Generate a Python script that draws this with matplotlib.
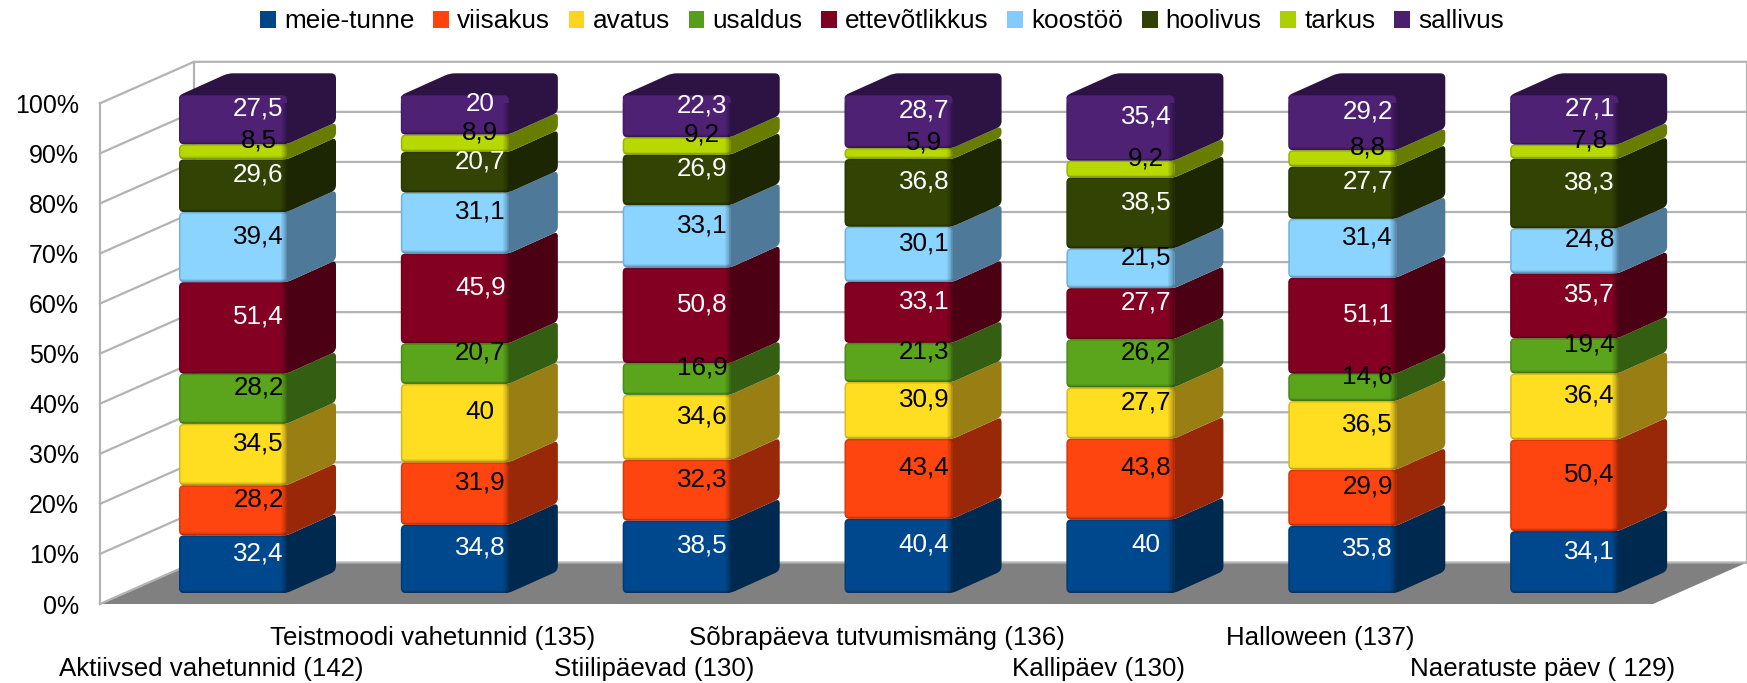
import matplotlib

matplotlib.use("Agg")
import matplotlib.pyplot as plt
from matplotlib.colors import to_rgb
from matplotlib.patches import PathPatch, Rectangle
from matplotlib.path import Path

plt.rcParams["font.family"] = ["Liberation Sans", "DejaVu Sans"]

categories = [
    "Aktiivsed vahetunnid (142)",
    "Teistmoodi vahetunnid (135)",
    "Stiilipäevad (130)",
    "Sõbrapäeva tutvumismäng (136)",
    "Kallipäev (130)",
    "Halloween (137)",
    "Naeratuste päev ( 129)",
]

series_names = ["meie-tunne", "viisakus", "avatus", "usaldus", "ettevõtlikkus",
                "koostöö", "hoolivus", "tarkus", "sallivus"]

meie_tunne = [32.4, 34.8, 38.5, 40.4, 40, 35.8, 34.1]
viisakus = [28.2, 31.9, 32.3, 43.4, 43.8, 29.9, 50.4]
avatus = [34.5, 40, 34.6, 30.9, 27.7, 36.5, 36.4]
usaldus = [28.2, 20.7, 16.9, 21.3, 26.2, 14.6, 19.4]
ettevotlikkus = [51.4, 45.9, 50.8, 33.1, 27.7, 51.1, 35.7]
koostoo = [39.4, 31.1, 33.1, 30.1, 21.5, 31.4, 24.8]
hoolivus = [29.6, 20.7, 26.9, 36.8, 38.5, 27.7, 38.3]
tarkus = [8.5, 8.9, 9.2, 5.9, 9.2, 8.8, 7.8]
sallivus = [27.5, 20, 22.3, 28.7, 35.4, 29.2, 27.1]

series = [meie_tunne, viisakus, avatus, usaldus, ettevotlikkus, koostoo, hoolivus, tarkus, sallivus]

colors = ["#004586", "#ff420e", "#ffd320", "#579d1c", "#7e0021",
          "#83caff", "#314004", "#aecf00", "#4b1f6f"]
label_colors = ["white", "black", "black", "black", "white", "black", "white", "black", "white"]

yticks = list(range(0, 101, 10))

# pixel geometry of the front plane, everything else goes through the data scale
W, H = 1747, 683
LEFT, RIGHT, BOTTOM, TOP = 100, 1653, 604, 103.3
X_PX = (RIGHT - LEFT) / len(categories)
Y_PX = (BOTTOM - TOP) / 100

# depth of the room and of one bar, in data units
ROOM_DX, ROOM_DY = 94 / X_PX, 41.5 / Y_PX
BAR_DX, BAR_DY = 49 / X_PX, 22 / Y_PX
BAR_X, BAR_W = 79 / X_PX, 108 / X_PX
BAR_BASE, BAR_SCALE = 11 / Y_PX, 0.994
WALL = "#b3b3b3"
FONT = 18.7


def shade(color, k):
    return tuple(min(1, c * k) for c in to_rgb(color))


def rounded(pts, r=5):
    """Closed path through pts with rounded corners, r in pixels."""
    px = [(x * X_PX, y * Y_PX) for x, y in pts]
    verts, codes = [], []
    n = len(px)
    for i in range(n):
        x, y = px[i]
        ax_, ay_ = px[i - 1]
        bx, by = px[(i + 1) % n]
        la = max(((ax_ - x) ** 2 + (ay_ - y) ** 2) ** 0.5, 1e-6)
        lb = max(((bx - x) ** 2 + (by - y) ** 2) ** 0.5, 1e-6)
        ra = min(r, la / 2)
        rb = min(r, lb / 2)
        start = (x + (ax_ - x) * ra / la, y + (ay_ - y) * ra / la)
        end = (x + (bx - x) * rb / lb, y + (by - y) * rb / lb)
        verts += [start, (x, y), end]
        codes += [Path.MOVETO if i == 0 else Path.LINETO, Path.CURVE3, Path.CURVE3]
    verts.append(verts[0])
    codes.append(Path.CLOSEPOLY)
    return Path([(x / X_PX, y / Y_PX) for x, y in verts], codes)


fig = plt.figure(figsize=(W / 100, H / 100), dpi=100)
ax = fig.add_axes([LEFT / W, 1 - BOTTOM / H, (RIGHT - LEFT) / W, (BOTTOM - TOP) / H])
ax.set_xlim(0, len(categories))
ax.set_ylim(0, 100)
for spine in ax.spines.values():
    spine.set_visible(False)
ax.patch.set_visible(False)

# room: floor, left wall and back wall
n = len(categories)
ax.add_patch(plt.Polygon([(0, 0), (n, 0), (n + ROOM_DX, ROOM_DY), (ROOM_DX, ROOM_DY)],
                         fc="#808080", ec="none", clip_on=False, zorder=1))
for v in yticks:
    ax.plot([0, ROOM_DX, n + ROOM_DX], [v, v + ROOM_DY, v + ROOM_DY],
            color=WALL, lw=1.6, clip_on=False, zorder=1.5)
ax.plot([0, 0], [0, 100], color=WALL, lw=1.6, clip_on=False, zorder=1.5)
ax.plot([ROOM_DX, ROOM_DX], [ROOM_DY, 100 + ROOM_DY], color=WALL, lw=1.6, clip_on=False, zorder=1.5)
ax.plot([n + ROOM_DX, n + ROOM_DX], [ROOM_DY, 100 + ROOM_DY], color=WALL, lw=1.6, clip_on=False, zorder=1.5)

# stacked boxes
inner = 6 / X_PX
for i in range(n):
    total = sum(s[i] for s in series)
    x0 = i + BAR_X
    x1 = x0 + BAR_W
    bottom = BAR_BASE
    for j, s in enumerate(series):
        height = s[i] / total * 100 * BAR_SCALE
        top = bottom + height
        z = 2 + j * 0.1
        side_c = shade(colors[j], 0.6)

        # side face runs a little under the front so no gap shows at the seam
        if j == len(series) - 1:
            side = [(x1 - inner, bottom), (x1, bottom), (x1 + BAR_DX, bottom + BAR_DY),
                    (x1 + BAR_DX, top + BAR_DY), (x0 + BAR_DX, top + BAR_DY), (x0, top),
                    (x0, top - 1), (x1 - inner, top - 1)]
        else:
            side = [(x1 - inner, bottom), (x1, bottom), (x1 + BAR_DX, bottom + BAR_DY),
                    (x1 + BAR_DX, top + BAR_DY), (x1, top), (x1 - inner, top)]
        ax.add_patch(PathPatch(rounded(side), fc=side_c, ec="none", clip_on=False, zorder=z))

        face = rounded([(x0, bottom), (x1, bottom), (x1, top), (x0, top)])
        front = PathPatch(face, fc=shade(colors[j], 1.05), ec="none", clip_on=False, zorder=z + 0.01)
        ax.add_patch(front)
        # soft dark rim on the front face, stronger to the right and at the bottom
        dark = shade(colors[j], 0.5)
        rim = PathPatch(face, fc="none", ec=dark, lw=2.2, alpha=0.3, zorder=z + 0.02)
        ax.add_patch(rim)
        rim.set_clip_path(front)
        for k in range(1, 7):
            band = Rectangle((x1 - k / X_PX, bottom), k / X_PX, height, fc=dark, ec="none",
                             alpha=0.1, zorder=z + 0.02)
            ax.add_patch(band)
            band.set_clip_path(front)
        for k in range(1, 4):
            band = Rectangle((x0, bottom), BAR_W, k / Y_PX, fc=dark, ec="none", alpha=0.12, zorder=z + 0.02)
            ax.add_patch(band)
            band.set_clip_path(front)

        ax.text(x0 + (BAR_W + BAR_DX + 2 / X_PX) / 2, bottom + (height + BAR_DY) / 2,
                f"{s[i]:g}".replace(".", ","), color=label_colors[j], fontsize=FONT,
                ha="center", va="center", zorder=5)
        bottom = top

# axes text
ax.set_yticks(yticks)
ax.set_yticklabels([f"{v}%" for v in yticks], fontsize=18)
ax.tick_params(axis="y", length=0, pad=15)
ax.set_xticks([i + 0.5 for i in range(n)])
ax.set_xticklabels(categories, fontsize=18.6)
ax.tick_params(axis="x", length=0)
for i, tick in enumerate(ax.xaxis.get_major_ticks()):
    tick.set_pad(38 if i % 2 == 0 else 16)

handles = [Rectangle((0, 0), 1, 1, fc=c, ec="none") for c in colors]
fig.legend(handles, series_names, loc="center", bbox_to_anchor=(882 / W, 1 - 21.5 / H), ncol=9,
           frameon=False, fontsize=18.8, handlelength=0.6, handleheight=0.6,
           handletextpad=0.31, columnspacing=0.72, borderpad=0, borderaxespad=0)

fig.savefig("out.png", dpi=100)
